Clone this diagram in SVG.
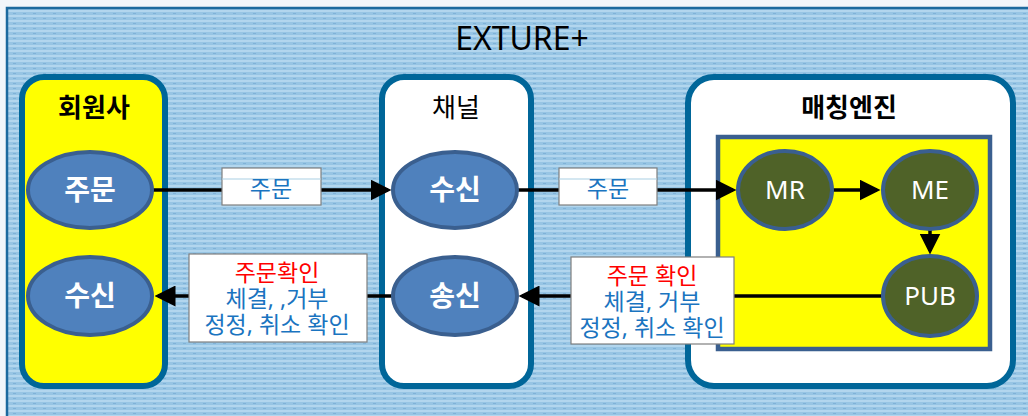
<svg xmlns="http://www.w3.org/2000/svg" width="1028" height="416" viewBox="0 0 1028 416">
<style>
.box{stroke:#006699;stroke-width:6}
.ell{stroke:#3a5f8f;stroke-width:4}
.blue{fill:#4f81bd}
.olive{fill:#4f6228}
.t{font-family:"Noto Sans","Noto Sans CJK KR",sans-serif;text-anchor:middle}
.wb{fill:#ffffff;font-weight:bold;font-size:28px}
.wn{fill:#ffffff;font-size:26px}
.ttl{font-size:26px;fill:#000}
.lt{font-size:23px;fill:#1a74c0}
.red{fill:#ff0000}
.lbl{fill:#ffffff;stroke:#7f7f7f;stroke-width:1.2}
.conn{stroke:#000;stroke-width:3.5;fill:none}
</style>
<defs>
<pattern id="bg" width="10" height="5" patternUnits="userSpaceOnUse">
<rect width="10" height="5" fill="#97c5e4"/>
<rect y="0" width="10" height="2" fill="#b2d6ee"/>
<rect x="3" y="3" width="3" height="1" fill="#7fb2d8"/>
</pattern>
<marker id="ah" markerWidth="6" markerHeight="6" refX="5" refY="3" orient="auto" markerUnits="strokeWidth">
<path d="M0,0 L6,3 L0,6 z" fill="#000"/>
</marker>
</defs>
<rect width="1028" height="416" fill="#f2f6fa"/>
<rect x="7" y="8" width="1024" height="412" fill="url(#bg)" stroke="#1d6a9e" stroke-width="2.5"/>
<text class="t" x="522" y="50" font-size="32" fill="#000">EXTURE+</text>

<g id="member">
<rect class="box" x="22" y="77" width="143" height="309" rx="22" fill="#ffff00"/>
<text class="t ttl" x="94" y="117" font-weight="bold">회원사</text>
</g>
<g id="channel">
<rect class="box" x="382" y="77" width="149" height="309" rx="22" fill="#ffffff"/>
<text class="t ttl" x="456" y="117">채널</text>
</g>
<g id="engine">
<rect class="box" x="688" y="77" width="325" height="309" rx="26" fill="#ffffff"/>
<text class="t ttl" x="849" y="117" font-weight="bold">매칭엔진</text>
<rect x="718" y="137" width="272" height="212" fill="#ffff00" stroke="#3a5f8f" stroke-width="4.5"/>
</g>

<g id="connectors">
<line class="conn" x1="152" y1="190" x2="388" y2="190" marker-end="url(#ah)"/>
<line class="conn" x1="517" y1="190" x2="733" y2="190" marker-end="url(#ah)"/>
<line class="conn" x1="833" y1="190" x2="877" y2="190" marker-end="url(#ah)"/>
<line class="conn" x1="930" y1="230" x2="930" y2="251" marker-end="url(#ah)"/>
<line class="conn" x1="882" y1="296" x2="522" y2="296" marker-end="url(#ah)"/>
<line class="conn" x1="394" y1="296" x2="158" y2="296" marker-end="url(#ah)"/>
</g>

<g id="lbl-order1">
<rect class="lbl" x="222" y="168" width="99" height="37"/>
<line x1="222" y1="179" x2="321" y2="179" stroke="#a9cfe3" stroke-width="1"/>
<text class="t lt" x="271" y="197">주문</text>
</g>
<g id="lbl-order2">
<rect class="lbl" x="559" y="168" width="98" height="37"/>
<line x1="559" y1="179" x2="657" y2="179" stroke="#a9cfe3" stroke-width="1"/>
<text class="t lt" x="608" y="197">주문</text>
</g>
<g id="lbl-confirm1">
<rect class="lbl" x="189" y="254" width="178" height="88"/>
<text class="t lt red" x="277" y="281">주문확인</text>
<text class="t lt" x="277" y="307">체결, ,거부</text>
<text class="t lt" x="277" y="333">정정, 취소 확인</text>
</g>
<g id="lbl-confirm2">
<rect class="lbl" x="571" y="257" width="163" height="87"/>
<text class="t lt red" x="652" y="284">주문 확인</text>
<text class="t lt" x="652" y="310">체결, 거부</text>
<text class="t lt" x="652" y="336">정정, 취소 확인</text>
</g>

<g id="m-order"><ellipse class="ell blue" cx="90" cy="190" rx="62" ry="38"/><text class="t wb" x="90" y="200">주문</text></g>
<g id="m-recv"><ellipse class="ell blue" cx="90" cy="296" rx="62" ry="39"/><text class="t wb" x="90" y="306">수신</text></g>
<g id="c-recv"><ellipse class="ell blue" cx="455" cy="190" rx="62" ry="38"/><text class="t wb" x="455" y="200">수신</text></g>
<g id="c-send"><ellipse class="ell blue" cx="455" cy="296" rx="62" ry="39"/><text class="t wb" x="455" y="306">송신</text></g>
<g id="mr"><ellipse class="ell olive" cx="785" cy="190" rx="47" ry="39"/><text class="t wn" x="785" y="199">MR</text></g>
<g id="me"><ellipse class="ell olive" cx="930" cy="190" rx="47" ry="39"/><text class="t wn" x="930" y="199">ME</text></g>
<g id="pub"><ellipse class="ell olive" cx="930" cy="296" rx="47" ry="40"/><text class="t wn" x="930" y="305">PUB</text></g>
</svg>
